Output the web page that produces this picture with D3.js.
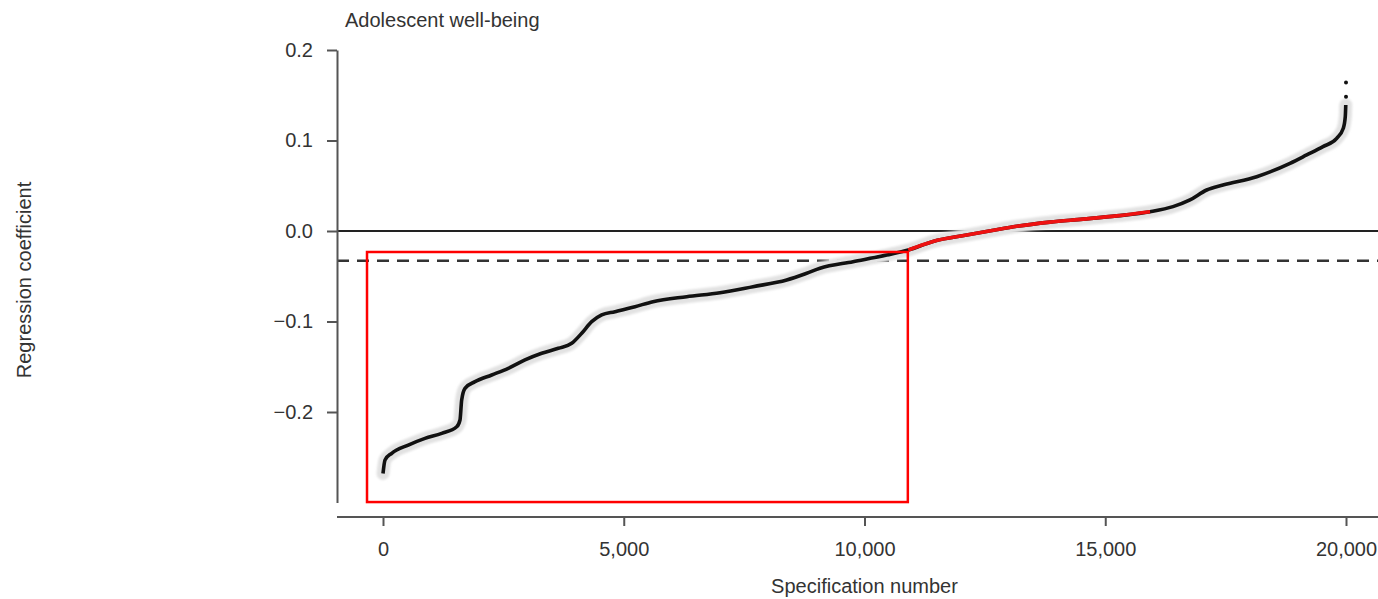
<!DOCTYPE html>
<html>
<head>
<meta charset="utf-8">
<script src="https://cdn.jsdelivr.net/npm/d3@7"></script>
<style>
  html, body { margin: 0; padding: 0; background: #fff; }
  svg { display: block; font-family: "Liberation Sans", Arial, Helvetica, sans-serif; }
</style>
</head>
<body>
<svg id="chart" width="1378" height="599"></svg>
<script>
// Specification curve: sorted regression coefficients, one per specification
const specNumber = [0, 42, 181, 525, 872, 1219, 1531, 1599, 1634, 1703, 1911, 2258, 2602, 2949,
  3296, 3641, 3919, 4127, 4334, 4542, 4818, 5234, 5607, 6307, 6999, 7684, 8384, 8800, 9076,
  9761, 10461, 10910, 11423, 12122, 12650, 13161, 13852, 14538, 15238, 15930, 16407, 16760,
  17107, 17445, 18145, 18837, 19184, 19522, 19807, 19944, 19985, 19995];
const coefficient = [-0.268, -0.253, -0.2456, -0.2365, -0.2291, -0.2236, -0.2163, -0.2088,
  -0.1867, -0.1738, -0.1665, -0.1591, -0.1517, -0.1425, -0.1351, -0.1296, -0.1241, -0.113,
  -0.1002, -0.0928, -0.0892, -0.0836, -0.0781, -0.0726, -0.0682, -0.0615, -0.0541, -0.0467,
  -0.0412, -0.0339, -0.0265, -0.021, -0.0115, -0.0045, 0.0005, 0.0052, 0.0098, 0.0131,
  0.0167, 0.0213, 0.0269, 0.0343, 0.0453, 0.0508, 0.06, 0.0748, 0.084, 0.0932, 0.1024,
  0.1135, 0.1263, 0.1392];

// Range of specifications whose coefficient is not significant
const nonSigStart = 10910;
const nonSigEnd = 15930;

// Isolated top-end estimates
const outlierSpec = [20000, 20000];
const outlierCoef = [0.1484, 0.164];

// Median effect (dashed reference)
const medianCoef = -0.033;

// Highlighted region
const boxSpec = [-332, 10900];
const boxCoef = [-0.2995, -0.0232];

const xTicks = [0, 5000, 10000, 15000, 20000];
const yTicks = [-0.2, -0.1, 0.0, 0.1, 0.2];

const title = "Adolescent well-being";
const xTitle = "Specification number";
const yTitle = "Regression coefficient";

const svg = d3.select("#chart");
const W = 1378;

const defs = svg.append("defs");
defs.append("filter").attr("id", "soft")
  .attr("x", "-5%").attr("y", "-5%").attr("width", "110%").attr("height", "110%")
  .append("feGaussianBlur").attr("stdDeviation", 1.2);

const x = d3.scaleLinear().domain([0, 20000]).range([383, 1346]);
const y = d3.scaleLinear().domain([-0.3, 0.2]).range([502.5, 50]);

const axisLeftX = 337;
const axisBottomY = 517;

const pts = specNumber.map((s, i) => ({ s, c: coefficient[i] }));
const line = d3.line().x(d => x(d.s)).y(d => y(d.c)).curve(d3.curveMonotoneX);

// reference lines
svg.append("line")
  .attr("x1", axisLeftX).attr("x2", W)
  .attr("y1", y(0)).attr("y2", y(0))
  .attr("stroke", "#222").attr("stroke-width", 2);

svg.append("line")
  .attr("x1", axisLeftX).attr("x2", W)
  .attr("y1", y(medianCoef)).attr("y2", y(medianCoef))
  .attr("stroke", "#333").attr("stroke-width", 2.5)
  .attr("stroke-dasharray", "12,8");

// confidence band
svg.append("path")
  .datum(pts)
  .attr("d", line)
  .attr("fill", "none")
  .attr("stroke", "#e2e2e2")
  .attr("stroke-width", 13)
  .attr("stroke-linecap", "round")
  .attr("stroke-linejoin", "round")
  .attr("filter", "url(#soft)");

// estimates
svg.append("path")
  .datum(pts)
  .attr("d", line)
  .attr("fill", "none")
  .attr("stroke", "#111")
  .attr("stroke-width", 3.6)
  .attr("stroke-linejoin", "round");

svg.append("path")
  .datum(pts.filter(d => d.s >= nonSigStart && d.s <= nonSigEnd))
  .attr("d", line)
  .attr("fill", "none")
  .attr("stroke", "#ee1111")
  .attr("stroke-width", 3.6);

svg.selectAll("circle.outlier")
  .data(outlierSpec.map((s, i) => ({ s, c: outlierCoef[i] })))
  .join("circle")
  .attr("class", "outlier")
  .attr("cx", d => x(d.s))
  .attr("cy", d => y(d.c))
  .attr("r", 2)
  .attr("fill", "#111");

// axes
const yAxis = d3.axisLeft(y)
  .tickValues(yTicks)
  .tickFormat(d3.format(".1f"))
  .tickSizeInner(10)
  .tickSizeOuter(0)
  .tickPadding(14);

const gy = svg.append("g")
  .attr("transform", `translate(${axisLeftX},0)`)
  .call(yAxis);

const xAxis = d3.axisBottom(x)
  .tickValues(xTicks)
  .tickFormat(d3.format(","))
  .tickSizeInner(9)
  .tickSizeOuter(0)
  .tickPadding(16);

const gx = svg.append("g")
  .attr("transform", `translate(0,${axisBottomY})`)
  .call(xAxis);
gx.select(".domain").remove();
gx.append("line")
  .attr("x1", axisLeftX).attr("x2", W)
  .attr("y1", 0).attr("y2", 0)
  .attr("stroke", "#555").attr("stroke-width", 2);

[gx, gy].forEach(g => {
  g.selectAll(".domain").attr("stroke", "#555").attr("stroke-width", 2);
  g.selectAll(".tick line").attr("stroke", "#555").attr("stroke-width", 2);
  g.selectAll(".tick text")
    .attr("fill", "#333")
    .style("font-size", "20px")
    .style("font-family", "'Liberation Sans', Arial, Helvetica, sans-serif");
});

// highlight box
svg.append("rect")
  .attr("x", x(boxSpec[0]))
  .attr("y", y(boxCoef[1]))
  .attr("width", x(boxSpec[1]) - x(boxSpec[0]))
  .attr("height", y(boxCoef[0]) - y(boxCoef[1]))
  .attr("fill", "none")
  .attr("stroke", "#ff0000")
  .attr("stroke-width", 2.5);

// titles
svg.append("text")
  .attr("x", 345).attr("y", 27)
  .attr("fill", "#333")
  .style("font-size", "20px")
  .text(title);

svg.append("text")
  .attr("x", x(10000)).attr("y", 593)
  .attr("text-anchor", "middle")
  .attr("fill", "#333")
  .style("font-size", "20px")
  .text(xTitle);

svg.append("text")
  .attr("transform", "translate(31,280) rotate(-90)")
  .attr("text-anchor", "middle")
  .attr("fill", "#333")
  .style("font-size", "20px")
  .text(yTitle);
</script>
</body>
</html>
